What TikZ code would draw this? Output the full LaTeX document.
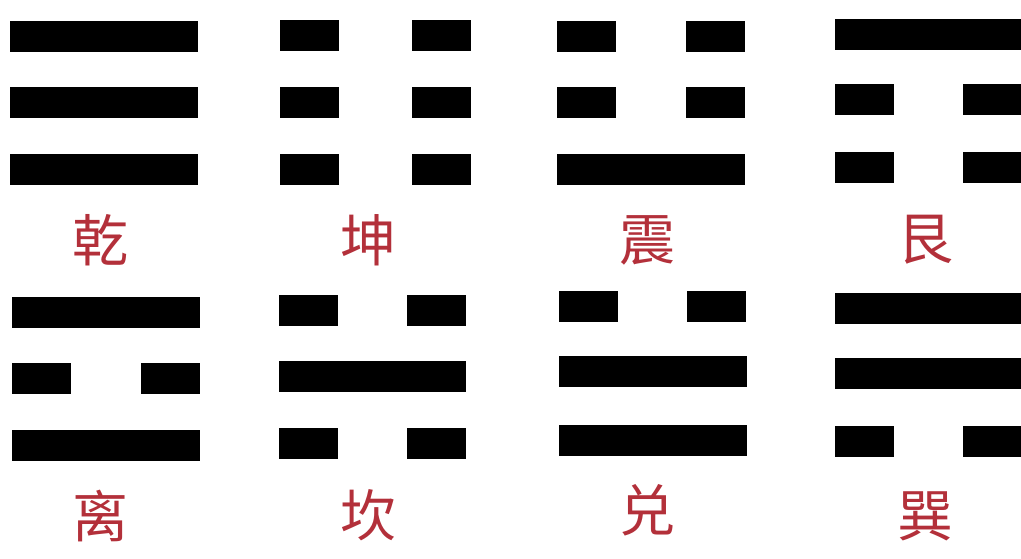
\documentclass[tikz,border=0pt]{standalone}
\usepackage{fontspec}
\newfontfamily\hanzi{Noto Sans CJK SC}
\definecolor{barink}{HTML}{000000}
\definecolor{namered}{HTML}{B3303A}
\tikzset{
  yang/.style={fill=barink, minimum width=188pt, minimum height=31pt,
               inner sep=0pt, anchor=west},
  yin/.style={yang, minimum width=59pt},
  gua/.style={text=namered, font=\hanzi\fontsize{56}{60}\selectfont, inner sep=0pt},
}

\begin{document}
\begin{tikzpicture}[x=1pt, y=-1pt]
    \useasboundingbox (0,0) rectangle (1021,558);
    % top row
    \node[yang] (qian1) at (10, 36) {};
    \node[yang] (qian2) at (10, 102) {};
    \node[yang] (qian3) at (10, 169) {};
    \node[gua] (qian) at (100, 240) {乾};

    \node[yin] (kun1a) at (280, 35) {};
    \node[yin] (kun1b) at (412, 35) {};
    \node[yin] (kun2a) at (280, 102) {};
    \node[yin] (kun2b) at (412, 102) {};
    \node[yin] (kun3a) at (280, 169) {};
    \node[yin] (kun3b) at (412, 169) {};
    \node[gua] (kun) at (368, 240) {坤};

    \node[yin] (zhen1a) at (557, 36) {};
    \node[yin] (zhen1b) at (686, 36) {};
    \node[yin] (zhen2a) at (557, 102) {};
    \node[yin] (zhen2b) at (686, 102) {};
    \node[yang] (zhen3) at (557, 169) {};
    \node[gua] (zhen) at (647, 240) {震};

    \node[yang, minimum width=186pt] (gen1) at (835, 34) {};
    \node[yin] (gen2a) at (835, 99) {};
    \node[yin] (gen2b) at (963, 99) {};
    \node[yin] (gen3a) at (835, 167) {};
    \node[yin] (gen3b) at (963, 167) {};
    \node[gua] (gen) at (925, 240) {艮};

    % bottom row
    \node[yang] (li1) at (12, 312) {};
    \node[yin] (li2a) at (12, 378) {};
    \node[yin] (li2b) at (141, 378) {};
    \node[yang] (li3) at (12, 445) {};
    \node[gua] (li) at (100, 516) {离};

    \node[yin] (kan1a) at (279, 310) {};
    \node[yin] (kan1b) at (407, 310) {};
    \node[yang, minimum width=187pt] (kan2) at (279, 376) {};
    \node[yin] (kan3a) at (279, 443) {};
    \node[yin] (kan3b) at (407, 443) {};
    \node[gua] (kan) at (368, 515) {坎};

    \node[yin] (dui1a) at (559, 306) {};
    \node[yin] (dui1b) at (687, 306) {};
    \node[yang] (dui2) at (559, 371) {};
    \node[yang] (dui3) at (559, 440) {};
    \node[gua] (dui) at (647, 510) {兑};

    \node[yang, minimum width=186pt] (xun1) at (835, 308) {};
    \node[yang, minimum width=186pt] (xun2) at (835, 373) {};
    \node[yin] (xun3a) at (835, 441) {};
    \node[yin] (xun3b) at (963, 441) {};
    \node[gua] (xun) at (925, 516) {巽};
  \end{tikzpicture}
\end{document}
